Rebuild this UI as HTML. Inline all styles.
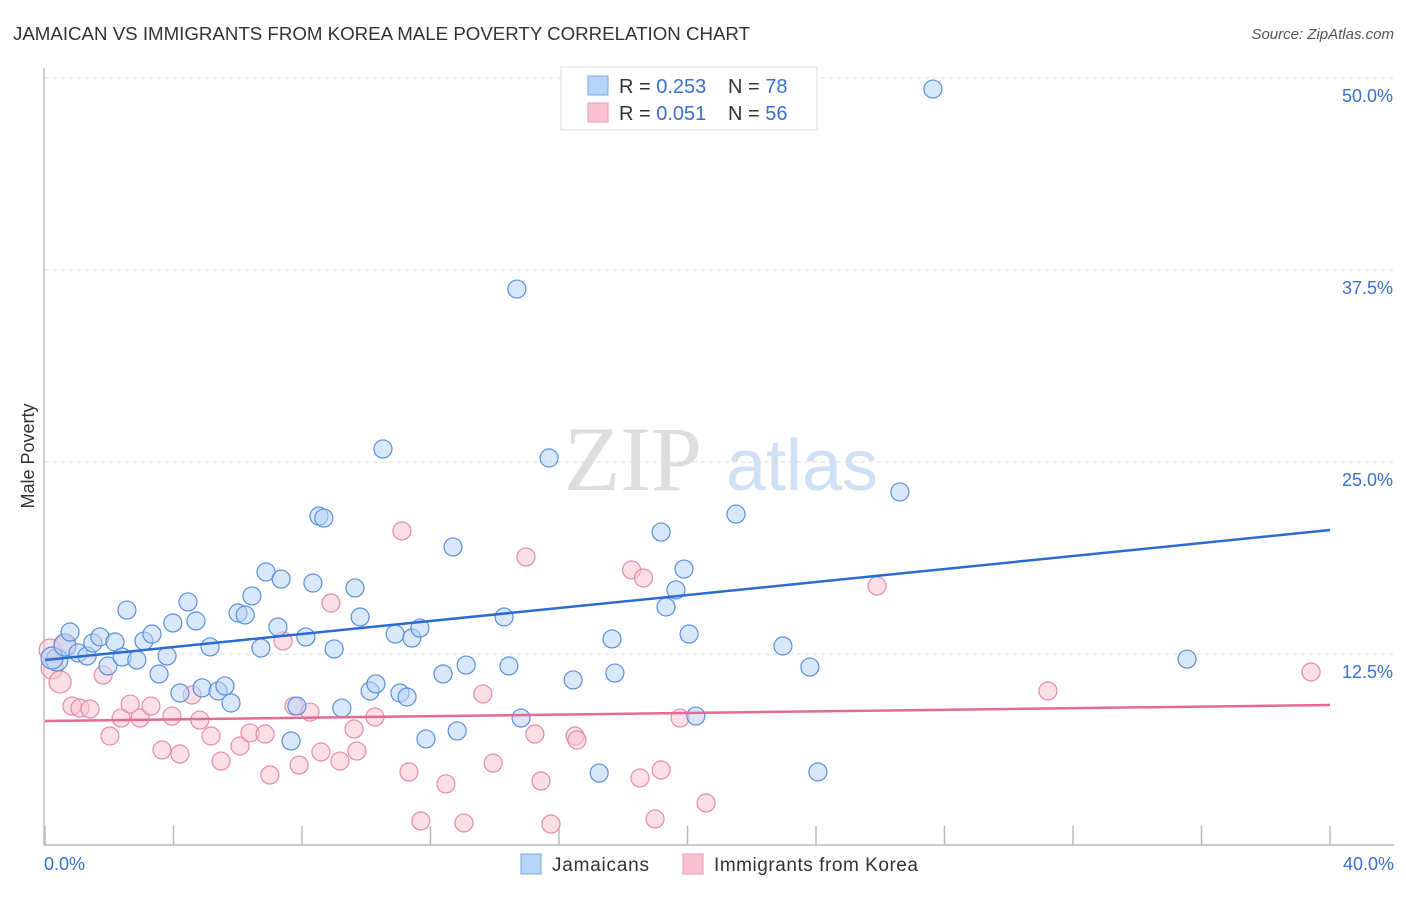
<!DOCTYPE html>
<html><head><meta charset="utf-8"><style>
body{margin:0;background:#fff;font-family:"Liberation Sans",sans-serif}
</style></head><body>
<svg id="chart" width="1406" height="892" xmlns="http://www.w3.org/2000/svg">
<text x="13" y="40" font-size="18" fill="#333" textLength="737" lengthAdjust="spacingAndGlyphs">JAMAICAN VS IMMIGRANTS FROM KOREA MALE POVERTY CORRELATION CHART</text>
<text x="1394" y="39" font-size="15" fill="#555" text-anchor="end" font-style="italic">Source: ZipAtlas.com</text>
<text x="34" y="456" font-size="18" fill="#333" text-anchor="middle" transform="rotate(-90 34 456)">Male Poverty</text>
<g>
<text x="633" y="490" font-size="92" fill="#ddd" font-family="Liberation Serif,serif" text-anchor="middle">ZIP</text>
<text x="802" y="490" font-size="72" fill="#cfe0f4" text-anchor="middle">atlas</text>
</g>
<g id="grid"></g><g id="axes"></g><g id="pts"></g><g id="trend"></g>
<g>
<rect x="561" y="67" width="256" height="63" fill="#fff" stroke="#ddd"/>
<rect x="588" y="76" width="20" height="19" fill="#b8d4f6" stroke="#7aa8e0"/>
<rect x="588" y="103" width="20" height="19" fill="#f8c4d3" stroke="#eb9ab2"/>
<text x="619" y="93" font-size="20" fill="#333">R = <tspan fill="#3a6fd0">0.253</tspan><tspan x="728">N = </tspan><tspan fill="#3a6fd0">78</tspan></text>
<text x="619" y="120" font-size="20" fill="#333">R = <tspan fill="#3a6fd0">0.051</tspan><tspan x="728">N = </tspan><tspan fill="#3a6fd0">56</tspan></text>
</g>
<g>
<rect x="521" y="854" width="20" height="20" fill="#b8d4f6" stroke="#7aa8e0"/>
<text x="552" y="871" font-size="19" fill="#333" textLength="97">Jamaicans</text>
<rect x="683" y="854" width="20" height="20" fill="#f8c4d3" stroke="#eb9ab2"/>
<text x="714" y="871" font-size="19" fill="#333" textLength="204">Immigrants from Korea</text>
</g>
</svg>
<script>
const yTicks=[12.5,25,37.5,50];
const yTickLabels=["12.5%","25.0%","37.5%","50.0%"];
const xTicks=[0,4,8,12,16,20,24,28,32,36,40];
const xTickLabels=["0.0%","40.0%"];
const jamX=[0.37,0.22,0.62,0.78,1.03,1.31,1.49,1.71,1.96,2.18,2.40,2.55,2.86,3.08,3.33,3.55,3.80,3.98,4.20,4.45,4.70,4.89,5.14,5.39,5.60,5.79,6.01,6.23,6.44,6.72,6.88,7.25,7.35,7.66,7.84,8.12,8.34,8.53,8.68,9.00,9.24,9.65,9.81,10.12,10.30,10.52,10.90,11.05,11.27,11.42,11.67,11.86,12.39,12.70,12.83,13.11,14.29,14.44,14.69,14.82,15.69,16.44,17.25,17.65,17.74,19.18,19.33,19.64,19.89,20.05,20.26,21.51,22.97,23.81,24.06,26.61,27.64,35.55];
const jamY=[12.11,12.24,13.09,13.93,12.57,12.37,13.22,13.61,11.72,13.28,12.30,15.36,12.11,13.35,13.80,11.20,12.37,14.52,9.96,15.89,14.65,10.29,12.96,10.09,10.42,9.31,15.17,15.04,16.28,12.89,17.84,14.26,17.38,6.84,9.11,13.61,17.12,21.48,21.35,12.83,8.98,16.80,14.91,10.09,10.55,25.85,13.80,9.96,9.70,13.54,14.19,6.97,11.20,19.47,7.49,11.78,14.91,11.72,36.26,8.33,25.26,10.81,4.75,13.48,11.26,20.44,15.56,16.67,18.03,13.80,8.46,21.61,13.02,11.65,4.82,23.05,49.28,12.17];
const korX=[0.16,0.22,0.47,0.62,0.84,1.09,1.40,1.81,2.02,2.37,2.65,2.96,3.30,3.64,3.95,4.20,4.58,4.82,5.17,5.48,6.07,6.38,6.85,7.00,7.41,7.75,7.91,8.25,8.59,8.90,9.18,9.62,9.71,10.27,11.11,11.33,11.70,12.48,13.04,13.63,13.95,14.97,15.25,15.44,15.75,16.50,16.56,18.26,18.63,18.52,18.99,19.18,19.77,20.58,25.90,31.22,39.41];
const korY=[12.76,11.59,10.68,12.96,9.11,8.98,8.92,11.13,7.16,8.33,9.24,8.33,9.11,6.25,8.46,5.99,9.83,8.20,7.16,5.53,6.51,7.36,7.29,4.62,13.35,9.11,5.27,8.72,6.12,15.82,5.53,7.62,6.18,8.40,20.51,4.82,1.63,4.04,1.50,9.90,5.40,18.82,7.29,4.23,1.43,7.16,6.90,17.97,17.45,4.43,1.76,4.95,8.33,2.80,16.93,10.09,11.33];
const jamTrend=[12.11,20.57];
const korTrend=[8.14,9.18];
const NS="http://www.w3.org/2000/svg";
const X=v=>45+v/40*1285, Y=v=>846-v/12.5*192;
function mk(p,t,a){const e=document.createElementNS(NS,t);for(const k in a)e.setAttribute(k,a[k]);document.getElementById(p).appendChild(e);return e;}
yTicks.forEach((t,i)=>{
 let l=mk('grid','line',{x1:45,x2:1394,y1:Y(t),y2:Y(t),stroke:'#ddd','stroke-dasharray':'4,4'});
 
 
 let tx=mk('grid','text',{x:1393,y:Y(t)+24,'font-size':18,fill:'#3a6fd0','text-anchor':'end'});
 tx.textContent=yTickLabels[i];
 
 
});
let ax=mk('axes','path',{d:'M44,68 V845 H1394',fill:'none',stroke:'#bbb','stroke-width':1.5});


xTicks.forEach(t=>{
 let l=mk('axes','line',{x1:X(t),x2:X(t),y1:826,y2:845,stroke:'#bbb','stroke-width':1.5});
 
 
});
[[0,'start',44],[40,'end',1394]].forEach((d,i)=>{
 let tx=mk('axes','text',{x:d[2],y:870,'font-size':18,fill:'#3a6fd0','text-anchor':d[1]});
 tx.textContent=xTickLabels[i];
 
 
});
function pts(xs,ys,fill,stroke,name){
 xs.forEach((x,i)=>{
  let c=mk('pts','circle',{cx:X(x),cy:Y(ys[i]),r:(x<0.7?11:9),fill:fill,'fill-opacity':0.55,stroke:stroke,'stroke-width':1.2});
  
  
 });
}
pts(korX,korY,'#f8c4d3','#e88aa6','korea-point');
pts(jamX,jamY,'#b8d4f6','#5b8fdc','jamaican-point');
let t1=mk('trend','line',{x1:X(0),x2:X(40),y1:Y(jamTrend[0]),y2:Y(jamTrend[1]),stroke:'#2a6bd0','stroke-width':2.5});


let t2=mk('trend','line',{x1:X(0),x2:X(40),y1:Y(korTrend[0]),y2:Y(korTrend[1]),stroke:'#e26a94','stroke-width':2.5});


</script>
</body></html>
